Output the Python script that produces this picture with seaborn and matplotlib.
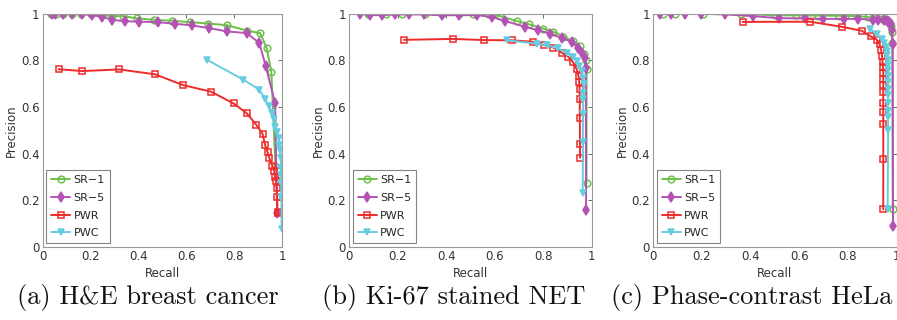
import pandas as pd
import matplotlib.pyplot as plt
import seaborn as sns

# (a) H&E breast cancer
a_sr1_x = [0.035, 0.055, 0.085, 0.12, 0.16, 0.2, 0.245, 0.29, 0.333, 0.392, 0.466, 0.54, 0.615, 0.692, 0.768, 0.852, 0.908, 0.935, 0.955, 0.972]
a_sr1_y = [1.0, 1.0, 1.0, 1.0, 1.0, 0.998, 0.995, 0.99, 0.99, 0.98, 0.974, 0.97, 0.964, 0.958, 0.951, 0.928, 0.917, 0.854, 0.752, 0.345]
a_sr5_x = [0.036, 0.05, 0.082, 0.123, 0.162, 0.204, 0.245, 0.287, 0.343, 0.403, 0.479, 0.552, 0.624, 0.696, 0.771, 0.852, 0.905, 0.931, 0.971, 0.979]
a_sr5_y = [1.0, 1.0, 1.0, 1.0, 1.0, 0.993, 0.988, 0.974, 0.968, 0.966, 0.964, 0.957, 0.95, 0.938, 0.924, 0.917, 0.874, 0.777, 0.615, 0.143]
a_pwr_x = [0.065, 0.163, 0.319, 0.469, 0.585, 0.704, 0.797, 0.852, 0.892, 0.918, 0.929, 0.939, 0.947, 0.959, 0.967, 0.971, 0.975, 0.978, 0.979, 0.981, 0.981]
a_pwr_y = [0.762, 0.754, 0.761, 0.74, 0.694, 0.665, 0.615, 0.573, 0.523, 0.485, 0.436, 0.406, 0.379, 0.347, 0.323, 0.298, 0.28, 0.252, 0.215, 0.151, 0.143]
a_pwc_x = [0.685, 0.838, 0.905, 0.929, 0.944, 0.957, 0.968, 0.972, 0.978, 0.985, 0.989, 0.992, 0.994, 0.996, 0.996, 0.997, 0.997, 0.998]
a_pwc_y = [0.803, 0.717, 0.674, 0.634, 0.605, 0.576, 0.547, 0.516, 0.493, 0.468, 0.435, 0.414, 0.382, 0.34, 0.31, 0.272, 0.213, 0.075]

# (b) Ki-67 stained NET
b_sr1_x = [0.078, 0.15, 0.219, 0.312, 0.381, 0.452, 0.512, 0.573, 0.622, 0.69, 0.741, 0.8, 0.842, 0.883, 0.924, 0.952, 0.97, 0.975, 0.979, 0.979]
b_sr1_y = [1.0, 1.0, 1.0, 1.0, 1.0, 1.0, 1.0, 0.998, 0.99, 0.969, 0.955, 0.936, 0.923, 0.902, 0.882, 0.861, 0.827, 0.802, 0.762, 0.273]
b_sr5_x = [0.044, 0.085, 0.136, 0.189, 0.248, 0.308, 0.381, 0.452, 0.528, 0.59, 0.642, 0.725, 0.78, 0.828, 0.879, 0.917, 0.945, 0.961, 0.972, 0.976, 0.977]
b_sr5_y = [1.0, 0.994, 0.994, 0.997, 0.997, 0.997, 0.993, 0.994, 0.994, 0.986, 0.969, 0.944, 0.929, 0.915, 0.895, 0.88, 0.852, 0.831, 0.812, 0.767, 0.157]
b_pwr_x = [0.226, 0.427, 0.557, 0.67, 0.757, 0.803, 0.842, 0.876, 0.904, 0.924, 0.938, 0.946, 0.949, 0.95, 0.951, 0.951, 0.952, 0.952]
b_pwr_y = [0.888, 0.892, 0.887, 0.886, 0.88, 0.866, 0.855, 0.833, 0.815, 0.791, 0.762, 0.733, 0.708, 0.677, 0.634, 0.553, 0.442, 0.382]
b_pwc_x = [0.649, 0.773, 0.814, 0.862, 0.897, 0.922, 0.938, 0.949, 0.959, 0.965, 0.968, 0.966, 0.965, 0.964, 0.964, 0.963]
b_pwc_y = [0.886, 0.872, 0.865, 0.851, 0.833, 0.816, 0.798, 0.777, 0.754, 0.726, 0.698, 0.662, 0.634, 0.57, 0.449, 0.232]

# (c) Phase-contrast HeLa
c_sr1_x = [0.041, 0.089, 0.205, 0.36, 0.5, 0.585, 0.678, 0.764, 0.836, 0.883, 0.918, 0.938, 0.956, 0.97, 0.975, 0.979, 0.982, 0.984]
c_sr1_y = [1.0, 1.0, 1.0, 1.0, 0.993, 0.993, 0.992, 0.991, 0.99, 0.986, 0.982, 0.979, 0.976, 0.966, 0.947, 0.92, 0.876, 0.164]
c_sr5_x = [0.027, 0.071, 0.13, 0.195, 0.296, 0.408, 0.515, 0.622, 0.696, 0.785, 0.842, 0.901, 0.925, 0.948, 0.962, 0.97, 0.976, 0.981, 0.984, 0.985]
c_sr5_y = [1.0, 1.0, 1.0, 1.0, 0.997, 0.99, 0.981, 0.98, 0.978, 0.978, 0.978, 0.975, 0.973, 0.975, 0.971, 0.965, 0.958, 0.93, 0.871, 0.091]
c_pwr_x = [0.367, 0.644, 0.775, 0.857, 0.893, 0.918, 0.93, 0.936, 0.94, 0.942, 0.944, 0.945, 0.945, 0.945, 0.945, 0.945, 0.945, 0.945, 0.945, 0.945]
c_pwr_y = [0.965, 0.966, 0.944, 0.927, 0.903, 0.889, 0.869, 0.846, 0.82, 0.793, 0.77, 0.745, 0.72, 0.695, 0.664, 0.617, 0.58, 0.526, 0.378, 0.16]
c_pwc_x = [0.89, 0.918, 0.938, 0.949, 0.955, 0.959, 0.961, 0.963, 0.964, 0.965, 0.965, 0.965, 0.965, 0.965, 0.965, 0.965, 0.965, 0.965, 0.963]
c_pwc_y = [0.936, 0.911, 0.893, 0.874, 0.857, 0.84, 0.821, 0.803, 0.778, 0.757, 0.731, 0.707, 0.678, 0.65, 0.617, 0.583, 0.557, 0.5, 0.164]

methods = ['SR\u22121', 'SR\u22125', 'PWR', 'PWC']
captions = ['(a) H&E breast cancer', '(b) Ki-67 stained NET', '(c) Phase-contrast HeLa']
tick_vals = [0, 0.2, 0.4, 0.6, 0.8, 1]
tick_labels = ['0', '0.2', '0.4', '0.6', '0.8', '1']

panels = [
    [(a_sr1_x, a_sr1_y), (a_sr5_x, a_sr5_y), (a_pwr_x, a_pwr_y), (a_pwc_x, a_pwc_y)],
    [(b_sr1_x, b_sr1_y), (b_sr5_x, b_sr5_y), (b_pwr_x, b_pwr_y), (b_pwc_x, b_pwc_y)],
    [(c_sr1_x, c_sr1_y), (c_sr5_x, c_sr5_y), (c_pwr_x, c_pwr_y), (c_pwc_x, c_pwc_y)],
]

colors = ['#6cc04a', '#b552b5', '#ee2b2b', '#66cde0']
markers = ['o', 'd', 's', 'v']
faces = ['none', None, 'none', None]

sns.set_style("white")
plt.rcParams['font.family'] = ['DejaVu Sans']

fig = plt.figure(figsize=(8.97, 3.2), dpi=100)
lefts = [0.048, 0.3894, 0.7283]
widths = [0.2665, 0.2702, 0.2713]
bottom, height = 0.229, 0.728
centers = [148 / 897, 454 / 897, 752 / 897]

for i, curves in enumerate(panels):
    ax = fig.add_axes([lefts[i], bottom, widths[i], height])
    for j, (xs, ys) in enumerate(curves):
        df = pd.DataFrame({'Recall': xs, 'Precision': ys})
        kw = dict(markerfacecolor=faces[j]) if faces[j] else {}
        sns.lineplot(data=df, x='Recall', y='Precision', ax=ax, sort=False, estimator=None,
                     color=colors[j], marker=markers[j], markersize=4.8, linewidth=1.4,
                     markeredgewidth=1.1, markeredgecolor=colors[j], label=methods[j], **kw)
    ax.set_xlim(0, 1)
    ax.set_ylim(0, 1)
    ax.set_xticks(tick_vals)
    ax.set_xticklabels(tick_labels)
    ax.set_yticks(tick_vals)
    ax.set_yticklabels(tick_labels)
    ax.tick_params(direction='in', top=True, right=True, length=3, width=0.6,
                   colors='#555555', labelsize=8.5, labelcolor='#333333', pad=2.5)
    for s in ax.spines.values():
        s.set_color('#999999')
        s.set_linewidth(0.8)
    ax.set_xlabel('Recall', fontsize=8.5, color='#333333', labelpad=3)
    ax.set_ylabel('Precision', fontsize=8.5, color='#333333', labelpad=2)
    leg = ax.legend(loc='lower left', fontsize=8, frameon=True, fancybox=False,
                    handlelength=1.7, borderpad=0.45, labelspacing=0.7,
                    handletextpad=0.3, borderaxespad=0.3)
    leg.get_frame().set_edgecolor('#666666')
    leg.get_frame().set_linewidth(0.8)
    fig.text(centers[i], 0.07, captions[i], ha='center', va='center',
             fontsize=19, family=['cmr10', 'DejaVu Serif'], color='#111111')

plt.savefig("out.png", dpi=100)
